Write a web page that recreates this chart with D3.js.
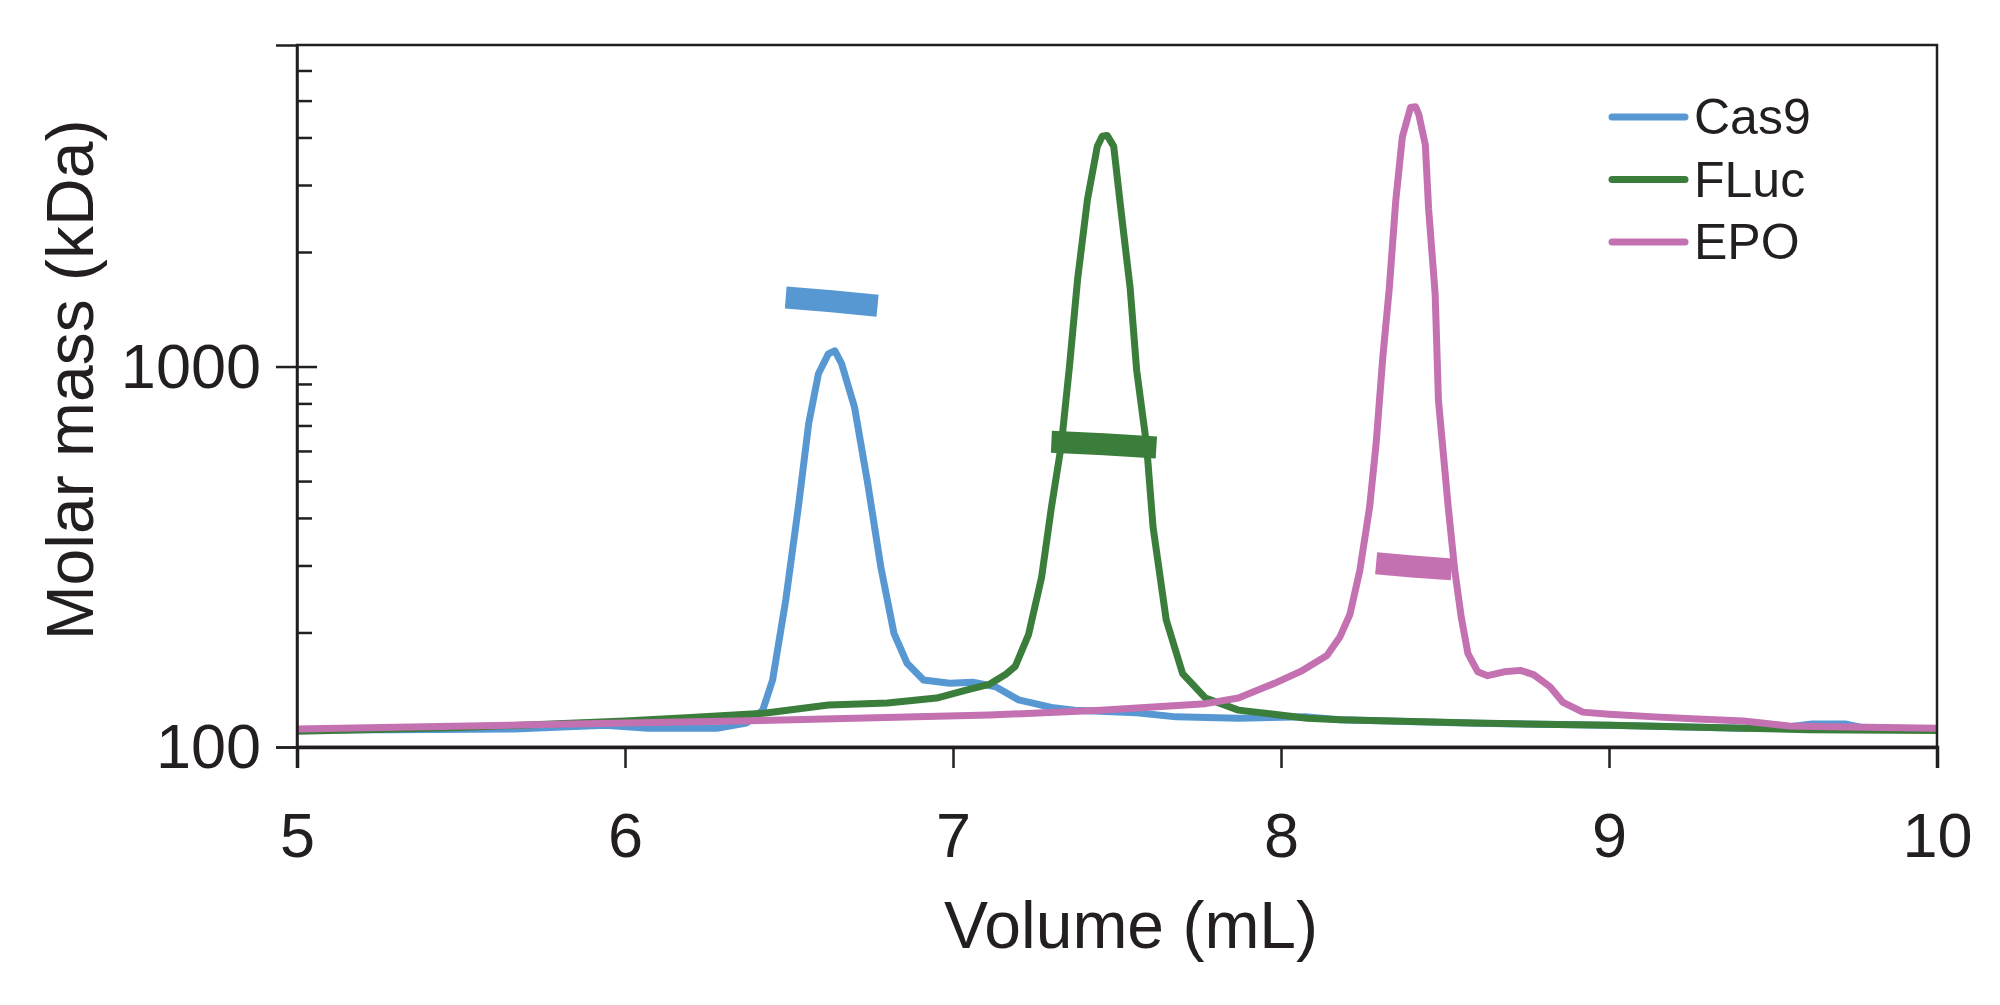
<!DOCTYPE html>
<html>
<head>
<meta charset="utf-8">
<script src="https://cdn.jsdelivr.net/npm/d3@7"></script>
<style>
  html, body { margin: 0; padding: 0; background: #fff; }
  text { font-family: "Liberation Sans", Arial, Helvetica, sans-serif; fill: #231f20; }
</style>
</head>
<body>
<svg id="chart" width="2000" height="1005"></svg>
<script>
// series names + colours (legend order)
const seriesNames = ["Cas9", "FLuc", "EPO"];
const seriesColors = ["#5798d3", "#3b7d3b", "#c471b1"];

// traces: [volume mL, molar mass kDa]
const cas9Trace = [[5.0,110.8],[5.3,111],[5.66,111.5],[5.94,114],[6.07,112],[6.28,112],[6.37,115.6],
  [6.42,125],[6.45,150],[6.49,243],[6.53,437],[6.56,708],[6.59,959],[6.62,1080],[6.64,1100],[6.66,1020],
  [6.70,780],[6.74,493],[6.78,297],[6.82,199],[6.86,166],[6.91,150],[6.99,147],[7.06,148],[7.13,144],
  [7.20,133],[7.25,130],[7.30,127],[7.37,125],[7.56,123],[7.68,120],[7.87,119],[8.08,120],[8.18,118],
  [8.59,115.5],[9.0,114],[9.41,112],[9.55,113],[9.62,115],[9.72,115],[9.78,112],[10.0,111.5]];
const flucTrace = [[5.0,110],[5.5,112.5],[6.0,117],[6.2,119.5],[6.43,122.8],[6.62,129],[6.80,130.5],
  [6.95,134.5],[7.04,141],[7.11,146],[7.16,155],[7.19,163],[7.23,197],[7.27,279],[7.30,426],[7.33,620],
  [7.355,1000],[7.38,1700],[7.41,2750],[7.44,3790],[7.455,4030],[7.47,4050],[7.49,3790],[7.51,2670],
  [7.54,1610],[7.56,977],[7.59,624],[7.61,378],[7.65,216],[7.70,156],[7.77,134.5],[7.87,125],[8.08,119],
  [8.18,118],[8.59,115.6],[9.0,114],[9.41,112],[9.61,111],[10.0,110.5]];
const epoTrace = [[5.0,111.5],[5.52,113.5],[6.0,115.6],[6.48,117.7],[7.11,121.3],[7.45,125],[7.77,130],
  [7.87,134.5],[7.98,147],[8.06,158],[8.14,174],[8.18,195],[8.21,223],[8.24,290],[8.27,426],[8.29,627],
  [8.31,1048],[8.33,1600],[8.35,2734],[8.37,4015],[8.395,4800],[8.41,4820],[8.42,4600],[8.44,3830],
  [8.45,2600],[8.47,1550],[8.48,815],[8.51,426],[8.53,290],[8.55,218],[8.57,176],[8.60,157.6],[8.63,154],
  [8.68,157.6],[8.73,159],[8.77,155],[8.82,144],[8.86,131],[8.92,123.5],[9.0,122],[9.14,120],
  [9.27,118.5],[9.41,117],[9.55,113.5],[9.68,113],[10.0,112]];

// MALS molar mass segments
const cas9Mass = [[6.49,1518],[6.63,1485],[6.77,1445]];
const flucMass = [[7.30,634],[7.46,625],[7.62,613]];
const epoMass = [[8.29,304],[8.40,298],[8.52,293]];

// axis ticks
const xTicks = [5, 6, 7, 8, 9, 10];
const yMajor = [100, 1000];
const yMinor = [200, 300, 400, 500, 600, 700, 800, 900, 2000, 3000, 4000, 5000, 6000];

const traces = [cas9Trace, flucTrace, epoTrace];
const masses = [cas9Mass, flucMass, epoMass];

const svg = d3.select("#chart");
const mLeft = 297, mTop = 45, mRight = 1937, mBottom = 747;

const x = d3.scaleLinear().domain([5, 10]).range([mLeft, mRight]);
const y = d3.scaleLog().domain([100, 7000]).range([mBottom, mTop]);

const line = d3.line().x(d => x(d[0])).y(d => y(d[1]));

// traces + mass bars
traces.forEach(function (t, i) {
  svg.append("path")
    .datum(t)
    .attr("d", line)
    .attr("fill", "none")
    .attr("stroke", seriesColors[i])
    .attr("stroke-width", 7)
    .attr("stroke-linejoin", "round");
  svg.append("path")
    .datum(masses[i])
    .attr("d", line)
    .attr("fill", "none")
    .attr("stroke", seriesColors[i])
    .attr("stroke-width", 22);
});

// frame
svg.append("rect")
  .attr("x", mLeft).attr("y", mTop)
  .attr("width", mRight - mLeft).attr("height", mBottom - mTop)
  .attr("fill", "none").attr("stroke", "#231f20").attr("stroke-width", 2.5);

// x axis
const gx = svg.append("g")
  .attr("transform", `translate(0,${mBottom})`)
  .call(d3.axisBottom(x).tickValues(xTicks).tickSize(21).tickFormat(d3.format("d")));
gx.select(".domain").attr("stroke", "#231f20").attr("stroke-width", 3.5);
gx.selectAll(".tick line").attr("stroke", "#231f20").attr("stroke-width", 2.5);
gx.selectAll(".tick text")
  .attr("y", 65).attr("dy", "0.71em")
  .attr("font-size", 63).attr("font-family", null).attr("fill", "#231f20");

// y axis: major outside with labels
const gy = svg.append("g")
  .attr("transform", `translate(${mLeft},0)`)
  .call(d3.axisLeft(y).tickValues(yMajor).tickSize(21).tickPadding(15).tickFormat(d3.format("d")));
gy.select(".domain").attr("stroke", "#231f20").attr("stroke-width", 2.5);
gy.selectAll(".tick line").attr("stroke", "#231f20").attr("stroke-width", 2.5);
gy.selectAll(".tick text")
  .attr("font-size", 63).attr("font-family", null).attr("fill", "#231f20").attr("dy", "0.33em");

// y axis: inner ticks
const gyIn = svg.append("g")
  .attr("transform", `translate(${mLeft},0)`)
  .call(d3.axisRight(y).tickValues(yMajor).tickSize(20).tickFormat(""));
const gyMinor = svg.append("g")
  .attr("transform", `translate(${mLeft},0)`)
  .call(d3.axisRight(y).tickValues(yMinor).tickSize(15).tickFormat(""));
[gyIn, gyMinor].forEach(function (g) {
  g.select(".domain").remove();
  g.selectAll(".tick line").attr("stroke", "#231f20").attr("stroke-width", 2.5);
});

// axis titles
svg.append("text")
  .attr("x", 1131).attr("y", 948)
  .attr("text-anchor", "middle")
  .attr("font-size", 66)
  .text("Volume (mL)");
svg.append("text")
  .attr("transform", "translate(93,380) rotate(-90)")
  .attr("text-anchor", "middle")
  .attr("font-size", 66)
  .text("Molar mass (kDa)");

// legend
const legend = svg.append("g").attr("transform", "translate(1609,117)");
seriesNames.forEach(function (name, i) {
  const g = legend.append("g").attr("transform", `translate(0,${i * 62.5})`);
  g.append("line")
    .attr("x1", 3).attr("x2", 76).attr("y1", 0).attr("y2", 0)
    .attr("stroke", seriesColors[i]).attr("stroke-width", 7).attr("stroke-linecap", "round");
  g.append("text")
    .attr("x", 85).attr("y", 17)
    .attr("font-size", 50)
    .text(name);
});
</script>
</body>
</html>
